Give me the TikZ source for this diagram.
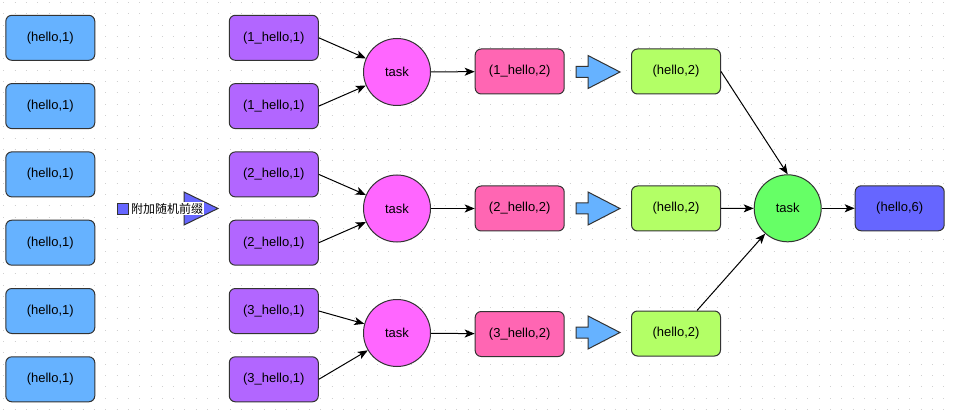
\documentclass[tikz,border=0pt]{standalone}
\usepackage{fontspec}
\setmainfont{Liberation Sans}
\newfontfamily\cjkfont{Noto Sans CJK SC}
\usetikzlibrary{arrows.meta}
\definecolor{cblue}{HTML}{66B2FF}
\definecolor{cpurple}{HTML}{B266FF}
\definecolor{cmag}{HTML}{FF66FF}
\definecolor{cpink}{HTML}{FF66B3}
\definecolor{clime}{HTML}{B3FF66}
\definecolor{cgreen}{HTML}{66FF66}
\definecolor{cindigo}{HTML}{6666FF}
\definecolor{cedge}{HTML}{333333}
\definecolor{cdot}{HTML}{D0D0D0}
\begin{document}
\begin{tikzpicture}[x=1pt,y=-1pt,
  box/.style={draw=cedge, line width=1pt, rounded corners=6pt, minimum width=89pt, minimum height=45pt, inner sep=0pt, font=\fontsize{13}{15}\selectfont},
  taskc/.style={circle, draw=cedge, line width=1pt, minimum size=67pt, inner sep=0pt, font=\fontsize{13}{15}\selectfont},
  conn/.style={draw=black, line width=1pt, -{Stealth[length=10pt,width=8pt,inset=2.5pt]}},
  blockarr/.pic={\draw[draw=cedge, fill=cblue, line width=1pt, line join=miter] (0,-5.5) -- (12,-5.5) -- (12,-16.5) -- (44,0) -- (12,16.5) -- (12,5.5) -- (0,5.5) -- cycle;}
]
\useasboundingbox (0,0) rectangle (953,414);
\fill[white] (0,0) rectangle (953,414);
% dotted grid
\foreach \k in {0,...,36}{
  \draw[cdot, line width=1pt, dash pattern=on 1pt off 10.327pt] (3.26,{2.5+11.3*\k}) -- (953,{2.5+11.3*\k});
}
% left column
\foreach \i/\y in {1/37.8,2/106.1,3/174.4,4/242.7,5/311,6/379.3}{
  \node[box, fill=cblue] (b\i) at (50.3,\y) {(hello,1)};
}
% purple column
\node[box, fill=cpurple] (p1) at (273.8,37.8) {(1\_hello,1)};
\node[box, fill=cpurple] (p2) at (273.8,106.1) {(1\_hello,1)};
\node[box, fill=cpurple] (p3) at (273.8,174.4) {(2\_hello,1)};
\node[box, fill=cpurple] (p4) at (273.8,242.7) {(2\_hello,1)};
\node[box, fill=cpurple] (p5) at (273.8,311) {(3\_hello,1)};
\node[box, fill=cpurple] (p6) at (273.8,379.3) {(3\_hello,1)};
% legend
\draw[draw=cedge, fill=cindigo, line width=1pt, line join=miter] (184,192) -- (218,208.5) -- (184,225) -- cycle;
\node[fill=cindigo, draw=cedge, line width=0.8pt, minimum size=11pt, inner sep=0pt] (lsq) at (123,208.5) {};
\node[fill=white, inner sep=1pt, anchor=west, font=\cjkfont\fontsize{12}{14}\selectfont] (ltext) at (130,208.5) {附加随机前缀};
% task circles
\node[taskc, fill=cmag] (t1) at (397,72) {task};
\node[taskc, fill=cmag] (t2) at (397,208.5) {task};
\node[taskc, fill=cmag] (t3) at (397,333) {task};
% pink boxes
\node[box, fill=cpink] (r1) at (519.7,71.5) {(1\_hello,2)};
\node[box, fill=cpink] (r2) at (519.7,208.5) {(2\_hello,2)};
\node[box, fill=cpink] (r3) at (519.7,334) {(3\_hello,2)};
% block arrows
\pic at (576,72) {blockarr};
\pic at (576,208.5) {blockarr};
\pic at (576,332.5) {blockarr};
% green boxes
\node[box, fill=clime] (g1) at (676,71.5) {(hello,2)};
\node[box, fill=clime] (g2) at (676,208.5) {(hello,2)};
\node[box, fill=clime] (g3) at (676,333.5) {(hello,2)};
% final
\node[taskc, fill=cgreen] (tc) at (787.7,208.3) {task};
\node[box, fill=cindigo] (res) at (899.7,208.3) {(hello,6)};
% connectors
\draw[conn] (p1.east) -- (t1);
\draw[conn] (p2.east) -- (t1);
\draw[conn] (p3.east) -- (t2);
\draw[conn] (p4.east) -- (t2);
\draw[conn] (p5.east) -- (t3);
\draw[conn] (p6.east) -- (t3);
\draw[conn] (t1) -- (r1);
\draw[conn] (t2) -- (r2);
\draw[conn] (t3) -- (r3);
\draw[conn] (g1.east) -- (tc.north);
\draw[conn] (g2) -- (tc);
\draw[conn] ([xshift=21pt]g3.north) -- (tc);
\draw[conn] (tc) -- (res);
\end{tikzpicture}
\end{document}
